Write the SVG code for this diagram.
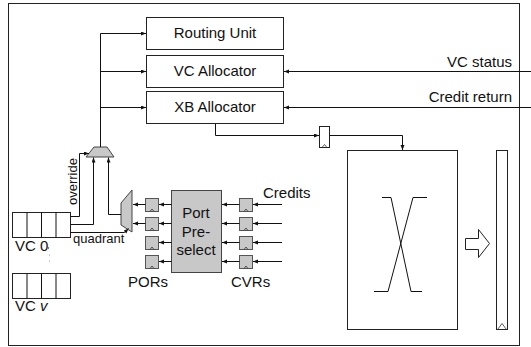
<svg xmlns="http://www.w3.org/2000/svg" width="531" height="347" viewBox="0 0 531 347">
<defs>
<marker id="ah" markerUnits="userSpaceOnUse" markerWidth="6" markerHeight="5" refX="5" refY="2" orient="auto">
<path d="M0,0 L5,2 L0,4 z" fill="#111"/>
</marker>
<style>
text{font-family:"Liberation Sans",Arial,sans-serif;fill:#111}
.t15{font-size:15px}
.t13{font-size:13px}
.box{fill:#fff;stroke:#222;stroke-width:1}
.gray{fill:#c8c8c8;stroke:#444;stroke-width:1}
.reg{fill:#c8c8c8;stroke:#555;stroke-width:1}
.w{fill:none;stroke:#111;stroke-width:1}
.a{fill:none;stroke:#111;stroke-width:1;marker-end:url(#ah)}
.n{fill:none;stroke:#333;stroke-width:0.8}
</style>
</defs>
<rect x="8.5" y="3.5" width="511" height="342" fill="#fff" stroke="#222" stroke-width="1"/>

<g id="routing-unit"><rect class="box" x="146.5" y="17.5" width="137" height="32"/><text class="t15" x="215" y="38" text-anchor="middle">Routing Unit</text></g>
<g id="vc-allocator"><rect class="box" x="146.5" y="55.5" width="137" height="32"/><text class="t15" x="215" y="76" text-anchor="middle">VC Allocator</text></g>
<g id="xb-allocator"><rect class="box" x="146.5" y="91.5" width="137" height="32"/><text class="t15" x="215" y="112" text-anchor="middle">XB Allocator</text></g>

<g id="vc-status-label"><text class="t15" x="512" y="67" text-anchor="end">VC status</text></g>
<g id="credit-return-label"><text class="t15" x="512" y="102" text-anchor="end">Credit return</text></g>

<g id="mux-top"><polygon class="gray" points="94,147 107,147 114,157 86,157"/></g>
<g id="mux-left"><polygon class="gray" points="121,203 132,190 132,232 121,225"/></g>

<g id="vc0"><rect class="box" x="12.5" y="212.5" width="58" height="25"/><path class="w" d="M27,212.5V237.5M41.5,212.5V237.5M56,212.5V237.5"/><text class="t15" x="15" y="251">VC 0</text>
<circle cx="48.5" cy="248" r="0.7" fill="#333"/><circle cx="49.5" cy="255" r="0.6" fill="#888"/><circle cx="49.5" cy="261" r="0.6" fill="#888"/></g>
<g id="vcv"><rect class="box" x="12.5" y="273.5" width="58" height="25"/><path class="w" d="M27,273.5V298.5M41.5,273.5V298.5M56,273.5V298.5"/><text class="t15" x="15" y="311">VC <tspan font-style="italic">v</tspan></text></g>

<g id="port-preselect"><rect class="gray" x="171.5" y="190.5" width="50" height="82"/><text class="t15" text-anchor="middle"><tspan x="196" y="218">Port</tspan><tspan x="196" y="237">Pre-</tspan><tspan x="196" y="255">select</tspan></text></g>

<g id="pors">
<rect class="reg" x="145.5" y="198.5" width="13" height="13"/><polyline class="n" points="150,211.5 152,209 154,211.5"/>
<rect class="reg" x="145.5" y="217.5" width="13" height="13"/><polyline class="n" points="150,230.5 152,228 154,230.5"/>
<rect class="reg" x="145.5" y="236.5" width="13" height="13"/><polyline class="n" points="150,249.5 152,247 154,249.5"/>
<rect class="reg" x="145.5" y="255.5" width="13" height="13"/><polyline class="n" points="150,268.5 152,266 154,268.5"/>
<text class="t15" x="128" y="287">PORs</text>
</g>
<g id="cvrs">
<rect class="reg" x="239.5" y="198.5" width="13" height="13"/><polyline class="n" points="244,211.5 246,209 248,211.5"/>
<rect class="reg" x="239.5" y="217.5" width="13" height="13"/><polyline class="n" points="244,230.5 246,228 248,230.5"/>
<rect class="reg" x="239.5" y="236.5" width="13" height="13"/><polyline class="n" points="244,249.5 246,247 248,249.5"/>
<rect class="reg" x="239.5" y="255.5" width="13" height="13"/><polyline class="n" points="244,268.5 246,266 248,268.5"/>
<text class="t15" x="231" y="287">CVRs</text>
</g>
<g id="credits-label"><text class="t15" x="263" y="198">Credits</text></g>

<g id="xb-reg"><rect class="box" x="319.5" y="126.5" width="10" height="21"/><polyline class="n" points="322,147.5 324.5,144.5 327,147.5"/></g>

<g id="crossbar"><rect class="box" x="347.5" y="150.5" width="110" height="179"/>
<path class="w" d="M382,197.5H391L411,291.5H422M427,197.5H413L388,291.5H374"/></g>

<g id="out-arrow"><polygon class="box" points="465.5,238.5 478.5,238.5 478.5,229.5 489.5,243.5 478.5,257.5 478.5,249.5 465.5,249.5"/></g>
<g id="out-buffer"><rect class="box" x="496.5" y="150.5" width="11" height="179"/><polyline class="n" points="497.5,329.5 502,323.5 506.5,329.5"/></g>

<g id="connectors">
<path class="w" d="M100.5,147V33.5"/>
<path class="a" d="M100.5,33.5H146"/>
<path class="a" d="M100.5,71.5H146"/>
<path class="a" d="M100.5,107.5H146"/>
<path class="a" d="M531,71.5H284"/>
<path class="a" d="M531,107.5H284"/>
<path class="a" d="M215.5,124V135.5H319"/>
<path class="a" d="M329.5,135.5H402.5V150"/>
<path class="a" d="M70.5,216.5H79.5V153.5H89"/>
<path class="a" d="M70.5,224.5H93.5V157.5"/>
<path class="a" d="M121,214.5H108.5V157.5"/>
<path class="a" d="M70.5,232.5H124.5L128.5,228.5"/>
<path class="a" d="M145.5,204.5H133"/>
<path class="a" d="M145.5,223.5H133"/>
<path class="a" d="M171.5,204.5H159"/>
<path class="a" d="M171.5,223.5H159"/>
<path class="a" d="M171.5,242.5H159"/>
<path class="a" d="M171.5,261.5H159"/>
<path class="a" d="M239.5,204.5H222"/>
<path class="a" d="M239.5,223.5H222"/>
<path class="a" d="M239.5,242.5H222"/>
<path class="a" d="M239.5,261.5H222"/>
<path class="a" d="M282,204.5H253"/>
<path class="a" d="M282,223.5H253"/>
<path class="a" d="M282,242.5H253"/>
<path class="a" d="M282,261.5H253"/>
</g>
<g id="side-labels">
<text class="t13" transform="translate(77,205) rotate(-90)">override</text>
<text class="t13" x="73" y="243">quadrant</text>
</g>
</svg>
